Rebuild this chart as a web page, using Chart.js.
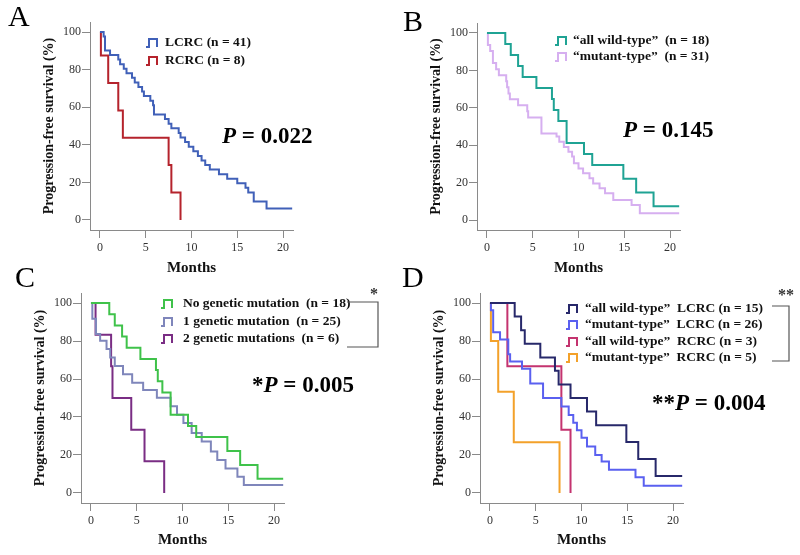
<!DOCTYPE html>
<html>
<head>
<meta charset="utf-8">
<script src="https://cdn.jsdelivr.net/npm/chart.js@4.4.1/dist/chart.umd.min.js"></script>
<style>
  body { margin: 0; background: #fff; }
  #wrap { position: relative; width: 800px; height: 555px; overflow: hidden; }
  canvas { position: absolute; }
</style>
</head>
<body>
<div id="wrap">
  <canvas id="panelA" width="400" height="283" style="left:0;top:0"></canvas>
  <canvas id="panelB" width="400" height="283" style="left:400px;top:0"></canvas>
  <canvas id="panelC" width="400" height="297" style="left:0;top:258px"></canvas>
  <canvas id="panelD" width="400" height="297" style="left:400px;top:258px"></canvas>
</div>
<script>
const xTicks = [0, 5, 10, 15, 20];
const yTicks = [0, 20, 40, 60, 80, 100];

// A: LCRC vs RCRC
const lcrcMonths = [0, 0.4, 0.55, 1.1, 2.0, 2.2, 2.6, 2.9, 3.5, 3.8, 4.2, 4.6, 4.8, 5.5, 5.8, 5.9, 7.1, 7.5, 7.8, 8.6, 8.8, 9.3, 9.7, 10.2, 10.7, 11.1, 11.5, 12.0, 13.0, 13.9, 15.0, 15.9, 16.2, 16.8, 18.2, 21];
const lcrcPfs    = [100, 97.6, 90.2, 87.8, 85.4, 82.9, 80.5, 78.0, 75.6, 73.2, 70.7, 68.3, 65.9, 63.4, 61.0, 56.1, 53.7, 51.2, 48.8, 46.3, 43.9, 41.5, 39.0, 36.6, 34.1, 31.7, 29.3, 26.8, 24.4, 22.0, 19.5, 17.1, 14.6, 9.8, 6.1, 6.1];
const rcrcMonths = [0, 0.1, 0.9, 2.0, 2.5, 7.5, 7.8, 8.8];
const rcrcPfs    = [100, 87.5, 72.9, 58.3, 43.8, 29.2, 14.6, 0];

// B / C: all wild-type (= no genetic mutation)
const wildMonths = [0, 2.0, 2.6, 3.4, 3.9, 5.4, 7.1, 7.3, 7.8, 8.7, 10.6, 11.5, 14.9, 16.3, 18.2, 21];
const wildPfs    = [100, 94.1, 88.2, 82.4, 76.5, 70.6, 64.7, 58.8, 52.9, 41.2, 35.3, 29.4, 22.1, 14.7, 7.4, 7.4];
const mutMonths  = [0, 0.1, 0.35, 0.65, 1.0, 1.3, 2.1, 2.2, 2.35, 2.5, 3.4, 4.4, 4.5, 5.95, 7.6, 7.9, 8.4, 8.9, 9.3, 9.5, 10.0, 10.5, 11.2, 11.6, 12.3, 12.9, 13.8, 15.8, 16.7, 21];
const mutPfs     = [100, 93.5, 90.3, 83.9, 80.6, 77.4, 74.2, 71.0, 67.7, 64.5, 61.3, 58.1, 54.8, 46.3, 44.6, 41.9, 39.0, 36.5, 33.9, 30.3, 27.6, 25.0, 22.3, 19.6, 17.0, 14.3, 10.7, 8.0, 3.6, 3.6];

// C: number of genetic mutations
const oneMutMonths = [0, 0.15, 0.55, 1.0, 1.7, 2.1, 2.6, 3.5, 4.5, 5.7, 7.2, 8.7, 9.4, 10.1, 11.0, 12.1, 13.1, 13.8, 14.7, 16.0, 16.7, 21];
const oneMutPfs    = [100, 91.7, 83.7, 80.2, 75.8, 71.3, 66.9, 62.5, 58.0, 54.2, 50.1, 45.7, 41.2, 36.8, 31.5, 27.1, 21.8, 17.3, 12.9, 8.5, 4.1, 4.1];
const twoMutMonths = [0, 0.5, 2.2, 2.35, 4.4, 5.85, 8.0];
const twoMutPfs    = [100, 83.3, 66.7, 50.0, 33.3, 16.7, 0];

// D: mutation status by side
const wildLMonths = [0, 2.7, 3.4, 3.8, 5.5, 7.1, 7.5, 8.8, 10.6, 11.6, 14.9, 16.2, 18.1, 21];
const wildLPfs    = [100, 92.9, 85.7, 78.6, 71.4, 64.3, 57.1, 50.0, 42.9, 35.7, 26.8, 17.9, 8.9, 8.9];
const mutLMonths  = [0, 0.1, 0.35, 1.1, 2.0, 2.2, 3.5, 4.4, 5.8, 7.8, 8.6, 9.1, 9.5, 10.0, 10.6, 11.5, 12.2, 13.0, 15.9, 16.8, 21];
const mutLPfs     = [100, 96.2, 84.6, 80.8, 73.1, 69.2, 65.4, 57.7, 50.0, 45.5, 41.0, 37.0, 33.0, 29.0, 24.5, 20.0, 16.5, 12.2, 8.2, 3.8, 3.8];
const wildRMonths = [0, 1.9, 7.8, 8.8];
const wildRPfs    = [100, 66.7, 33.3, 0];
const mutRMonths  = [0, 0.1, 0.9, 2.6, 7.6];
const mutRPfs     = [100, 80.0, 53.3, 26.7, 0];

const serif = "'Times New Roman', 'Liberation Serif', serif";
const axisGrey = "#8a8a8a";

function km(months, pfs) {
  return months.map((m, i) => ({ x: m, y: pfs[i] }));
}

function stepIcon(ctx, x, y, color) {
  ctx.strokeStyle = color;
  ctx.lineWidth = 2;
  ctx.beginPath();
  ctx.moveTo(x, y + 4);
  ctx.lineTo(x + 3, y + 4);
  ctx.lineTo(x + 3, y - 4);
  ctx.lineTo(x + 11, y - 4);
  ctx.lineTo(x + 11, y + 4);
  ctx.stroke();
}

function extras(p) {
  return {
    id: "extras",
    afterDraw(chart) {
      const ctx = chart.ctx;
      ctx.save();
      ctx.fillStyle = "#000";
      ctx.textBaseline = "alphabetic";
      ctx.textAlign = "left";
      ctx.font = "30px " + serif;
      ctx.fillText(p.letter, p.letterX, p.letterY);

      // legend
      ctx.font = "bold 13.5px " + serif;
      ctx.textBaseline = "middle";
      chart.data.datasets.forEach((ds, i) => {
        const y = p.legendY[i];
        stepIcon(ctx, p.iconX, y, ds.borderColor);
        ctx.fillStyle = "#111";
        ctx.fillText(ds.label, p.textX, y);
      });

      // p value
      ctx.textBaseline = "alphabetic";
      let x = p.pX;
      ctx.fillStyle = "#000";
      if (p.star) {
        ctx.font = "bold 23px " + serif;
        ctx.fillText(p.star, x, p.pY);
        x += ctx.measureText(p.star).width;
      }
      ctx.font = "italic bold 23px " + serif;
      ctx.fillText("P", x, p.pY);
      x += ctx.measureText("P").width;
      ctx.font = "bold 23px " + serif;
      ctx.fillText(" = " + p.pValue, x, p.pY);

      // significance bracket
      if (p.bracket) {
        const b = p.bracket;
        ctx.strokeStyle = "#555";
        ctx.lineWidth = 1.2;
        ctx.beginPath();
        ctx.moveTo(b.x0, b.y0);
        ctx.lineTo(b.x1, b.y0);
        ctx.lineTo(b.x1, b.y1);
        ctx.lineTo(b.x0, b.y1);
        ctx.stroke();
        ctx.font = "bold 16px " + serif;
        ctx.textAlign = "center";
        ctx.fillStyle = "#333";
        ctx.fillText(b.star, b.sx, b.sy);
      }
      ctx.restore();
    }
  };
}

// axisX: y-axis line position, top/bottom: plot box edges, h: canvas height
function makePanel(id, axisX, top, bottom, h, series, p) {
  const datasets = series.map(s => ({
    label: s.label,
    data: km(s.months, s.pfs),
    borderColor: s.color,
    borderWidth: 2,
    stepped: "before",
    pointRadius: 0,
    fill: false
  }));
  return new Chart(document.getElementById(id), {
    type: "line",
    data: { datasets },
    options: {
      responsive: false,
      animation: false,
      layout: { padding: { top: top, right: 400 - axisX - 203, bottom: 0, left: 0 } },
      plugins: { legend: { display: false }, tooltip: { enabled: false } },
      scales: {
        x: {
          type: "linear",
          min: -1.09,
          max: 21.09,
          afterBuildTicks: s => { s.ticks = xTicks.map(v => ({ value: v })); },
          afterFit: s => { s.height = h - bottom; },
          grid: { drawOnChartArea: false, drawTicks: true, tickLength: 8, color: axisGrey },
          border: { display: true, color: axisGrey, width: 1 },
          ticks: { font: { family: serif, size: 12 }, color: "#333", padding: 3, maxRotation: 0 },
          title: {
            display: true,
            text: "Months",
            font: { family: serif, size: 15, weight: "bold" },
            color: "#111",
            padding: { top: 0, bottom: 6 }
          }
        },
        y: {
          min: -5.32,
          max: 105.32,
          afterBuildTicks: s => { s.ticks = yTicks.map(v => ({ value: v })); },
          afterFit: s => { s.width = axisX; },
          grid: { drawOnChartArea: false, drawTicks: true, tickLength: 8, color: axisGrey },
          border: { display: true, color: axisGrey, width: 1 },
          ticks: { font: { family: serif, size: 12 }, color: "#333", padding: 1 },
          title: {
            display: true,
            text: "Progression-free survival (%)",
            font: { family: serif, size: 14, weight: "bold" },
            color: "#111",
            padding: { top: axisX - 41 - 8.4, bottom: 0 }
          }
        }
      }
    },
    plugins: [extras(p)]
  });
}

makePanel("panelA", 90, 22, 230, 283, [
  { label: "LCRC (n = 41)", months: lcrcMonths, pfs: lcrcPfs, color: "#4060b8" },
  { label: "RCRC (n = 8)", months: rcrcMonths, pfs: rcrcPfs, color: "#b5232c" }
], {
  letter: "A", letterX: 8, letterY: 26,
  iconX: 146, textX: 165, legendY: [43, 61],
  pX: 222, pY: 143, pValue: "0.022"
});

makePanel("panelB", 77, 23, 230, 283, [
  { label: "\u201call wild-type\u201d  (n = 18)", months: wildMonths, pfs: wildPfs, color: "#1fa394" },
  { label: "\u201cmutant-type\u201d  (n = 31)", months: mutMonths, pfs: mutPfs, color: "#d6aff0" }
], {
  letter: "B", letterX: 3, letterY: 31,
  iconX: 155, textX: 173, legendY: [41, 57],
  pX: 223, pY: 137, pValue: "0.145"
});

makePanel("panelC", 81, 35, 245, 297, [
  { label: "No genetic mutation  (n = 18)", months: wildMonths, pfs: wildPfs, color: "#3fc24a" },
  { label: "1 genetic mutation  (n = 25)", months: oneMutMonths, pfs: oneMutPfs, color: "#7f86bb" },
  { label: "2 genetic mutations  (n = 6)", months: twoMutMonths, pfs: twoMutPfs, color: "#7a2d84" }
], {
  letter: "C", letterX: 15, letterY: 29,
  iconX: 161, textX: 183, legendY: [46, 64, 81],
  star: "*", pX: 252, pY: 134, pValue: "0.005",
  bracket: { x0: 347, x1: 378, y0: 44, y1: 89, star: "*", sx: 374, sy: 41 }
});

makePanel("panelD", 80, 35, 245, 297, [
  { label: "\u201call wild-type\u201d  LCRC (n = 15)", months: wildLMonths, pfs: wildLPfs, color: "#27286a" },
  { label: "\u201cmutant-type\u201d  LCRC (n = 26)", months: mutLMonths, pfs: mutLPfs, color: "#5a60f0" },
  { label: "\u201call wild-type\u201d  RCRC (n = 3)", months: wildRMonths, pfs: wildRPfs, color: "#c4336f" },
  { label: "\u201cmutant-type\u201d  RCRC (n = 5)", months: mutRMonths, pfs: mutRPfs, color: "#f3a12a" }
], {
  letter: "D", letterX: 2, letterY: 29,
  iconX: 166, textX: 185, legendY: [51, 67, 84, 100],
  star: "**", pX: 252, pY: 152, pValue: "0.004",
  bracket: { x0: 372, x1: 389, y0: 48, y1: 103, star: "**", sx: 386, sy: 42 }
});
</script>
</body>
</html>
